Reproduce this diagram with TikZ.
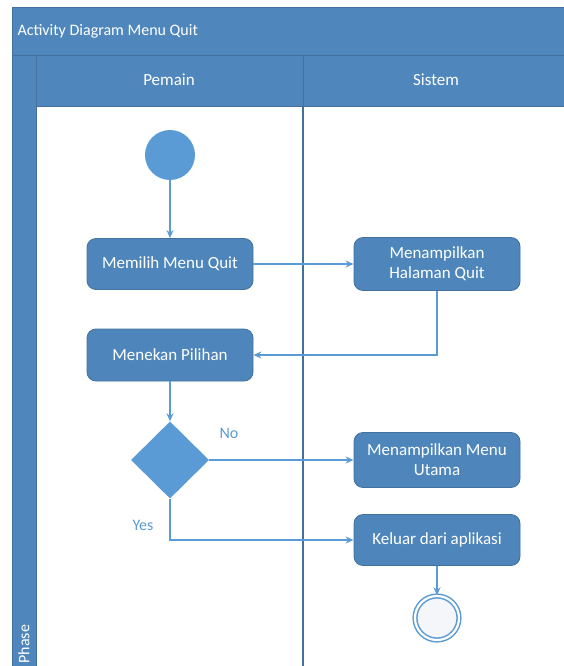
\documentclass[tikz,border=0pt]{standalone}
\usepackage{fontspec}
\setmainfont{Carlito}
\usetikzlibrary{arrows.meta,shapes.geometric}
\definecolor{hdr}{HTML}{4F87BC}
\definecolor{edge}{HTML}{41719C}
\definecolor{act}{HTML}{4E86BB}
\definecolor{flow}{HTML}{5B9BD5}
\definecolor{endfill}{HTML}{F4F6FA}
\tikzset{
  x=1pt, y=-1pt,
  band/.style={fill=hdr, draw=edge, line width=0.8pt},
  hdrtext/.style={text=white, font=\fontsize{16}{18}\selectfont},
  action/.style={rectangle, rounded corners=9pt, fill=act, draw=edge, line width=0.8pt,
    minimum width=166pt, minimum height=51pt, text=white, align=center,
    font=\fontsize{17}{20}\selectfont, inner sep=2pt},
  flowline/.style={draw=flow, line width=1.3pt, -{Stealth[length=8pt,width=7pt]}},
  guard/.style={text=flow, font=\fontsize{16}{18}\selectfont},
}
\begin{document}
\begin{tikzpicture}
\useasboundingbox (0,0) rectangle (563,666);
% swimlane frame
\fill[white] (12,7) rectangle (563,666);
\path[band] (12,7) rectangle (566,55);
\path[band] (12,55) rectangle (36,670);
\path[band] (36,55) rectangle (303,106);
\path[band] (303,55) rectangle (566,106);
\draw[edge, line width=0.8pt] (36,106) -- (36,670);
\draw[edge, line width=1.6pt] (303,106) -- (303,670);
\node[hdrtext, anchor=west] (title) at (14,31) {Activity Diagram Menu Quit};
\node[hdrtext, font=\fontsize{17}{19}\selectfont] (laneA) at (169,80) {Pemain};
\node[hdrtext, font=\fontsize{17}{19}\selectfont] (laneB) at (436,80) {Sistem};
\node[hdrtext, rotate=90, anchor=west] (phase) at (24,667) {Phase};

% activity nodes
\node[circle, fill=flow, minimum size=50pt, inner sep=0pt] (start) at (170,155) {};
\node[action] (pilih) at (170,264) {Memilih Menu Quit};
\node[action, minimum height=53pt] (halaman) at (437,264) {Menampilkan\\Halaman Quit};
\node[action, minimum height=52pt] (tekan) at (170,355) {Menekan Pilihan};
\node[diamond, fill=flow, minimum width=78pt, minimum height=77pt, inner sep=0pt] (cek) at (170,460) {};
\node[action, minimum height=55pt] (utama) at (437,460) {Menampilkan Menu\\Utama};
\node[action] (keluar) at (437,540) {Keluar dari aplikasi};
\node[circle, draw=flow, line width=1.5pt, double=white, double distance=2.2pt,
      fill=endfill, minimum size=44pt, inner sep=0pt] (akhir) at (437,618) {};

% control flow
\draw[flowline] (start) -- (pilih);
\draw[flowline] (pilih) -- (halaman);
\draw[flowline] (halaman.south) |- (tekan.east);
\draw[flowline] (tekan) -- (cek);
\draw[flowline] (cek.east) -- (utama.west);
\draw[flowline] (cek.south) |- (keluar.west);
\draw[flowline] (keluar) -- (akhir);

% guards
\node[guard] (no) at (229,433) {No};
\node[guard] (yes) at (143,525) {Yes};
\end{tikzpicture}
\end{document}
